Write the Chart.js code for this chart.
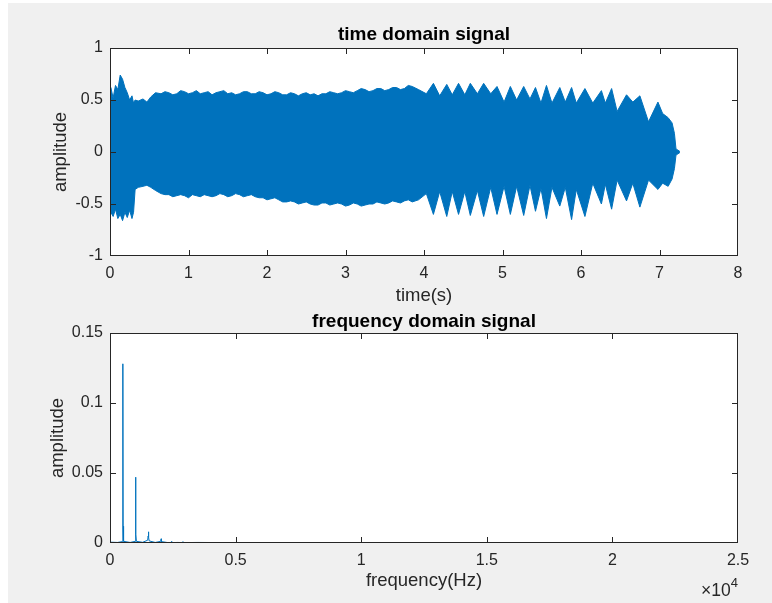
<!DOCTYPE html>
<html>
<head>
<meta charset="utf-8">
<title>time / frequency domain signal</title>
<script src="https://cdn.jsdelivr.net/npm/chart.js@4.4.1/dist/chart.umd.min.js"></script>
<style>
  html, body { margin: 0; padding: 0; background: #fff; }
  #fig { position: absolute; left: 8px; top: 3px; width: 764px; height: 600px; background: #f0f0f0; }
  #timeChart { position: absolute; left: 0; top: 0; }
  #freqChart { position: absolute; left: 0; top: 300px; }
</style>
</head>
<body>
<div id="fig"></div>
<canvas id="timeChart" width="772" height="310"></canvas>
<canvas id="freqChart" width="772" height="303"></canvas>
<script>
// envelope of the time signal, seconds / amplitude
const timeSec = [0.00, 0.01, 0.04, 0.07, 0.10, 0.13, 0.16, 0.19, 0.22, 0.25, 0.28, 0.30, 0.32, 0.36, 0.42, 0.47, 0.52, 0.58,
  0.65, 0.70, 0.75, 0.80, 0.85, 0.90, 0.95, 1.00, 1.05, 1.10, 1.15, 1.20, 1.25, 1.30, 1.35, 1.40, 1.45, 1.50, 1.55, 1.60,
  1.65, 1.70, 1.75, 1.80, 1.85, 1.90, 1.95, 2.00, 2.05, 2.10, 2.15, 2.20, 2.25, 2.30, 2.35, 2.40, 2.45, 2.50, 2.55, 2.60,
  2.65, 2.70, 2.75, 2.80, 2.85, 2.90, 2.95, 3.00, 3.05, 3.10, 3.15, 3.20, 3.25, 3.30, 3.35, 3.40, 3.45, 3.50, 3.55, 3.60,
  3.65, 3.70, 3.75, 3.80, 3.85, 3.93,
  4.03, 4.12, 4.20, 4.29, 4.36, 4.44, 4.52, 4.59, 4.68, 4.76, 4.85, 4.93, 5.02, 5.10, 5.18, 5.27, 5.35, 5.42, 5.49, 5.56,
  5.63, 5.73, 5.80, 5.88, 5.94, 6.05, 6.15, 6.26, 6.31, 6.39, 6.46, 6.58, 6.66, 6.75, 6.86, 6.98, 7.04, 7.11, 7.16, 7.19,
  7.21, 7.26];
const envUpper = [0.58, 0.62, 0.52, 0.64, 0.60, 0.74, 0.70, 0.62, 0.57, 0.50, 0.54, 0.47, 0.50, 0.49, 0.51, 0.48, 0.53, 0.57,
  0.56, 0.58, 0.57, 0.55, 0.56, 0.59, 0.58, 0.56, 0.57, 0.59, 0.56, 0.57, 0.58, 0.55, 0.57, 0.58, 0.59, 0.56, 0.57, 0.55,
  0.56, 0.58, 0.58, 0.56, 0.56, 0.58, 0.57, 0.55, 0.56, 0.58, 0.57, 0.55, 0.55, 0.57, 0.56, 0.54, 0.56, 0.57, 0.55, 0.56,
  0.54, 0.56, 0.56, 0.58, 0.57, 0.56, 0.57, 0.59, 0.58, 0.57, 0.59, 0.61, 0.60, 0.58, 0.59, 0.61, 0.61, 0.59, 0.60, 0.62,
  0.62, 0.60, 0.61, 0.64, 0.63, 0.60,
  0.56, 0.66, 0.54, 0.65, 0.55, 0.66, 0.55, 0.66, 0.56, 0.66, 0.56, 0.63, 0.48, 0.63, 0.50, 0.63, 0.51, 0.62, 0.47, 0.64,
  0.47, 0.62, 0.48, 0.62, 0.47, 0.61, 0.47, 0.59, 0.47, 0.61, 0.39, 0.55, 0.48, 0.54, 0.29, 0.48, 0.37, 0.33, 0.28, 0.18,
  0.03, 0.005];
const envLower = [-0.55, -0.58, -0.62, -0.55, -0.64, -0.60, -0.66, -0.58, -0.63, -0.56, -0.64, -0.58, -0.36, -0.34, -0.33, -0.32, -0.34, -0.37,
  -0.40, -0.41, -0.41, -0.43, -0.42, -0.41, -0.42, -0.44, -0.41, -0.42, -0.43, -0.41, -0.42, -0.43, -0.42, -0.40, -0.41, -0.43, -0.42, -0.40,
  -0.41, -0.43, -0.42, -0.41, -0.43, -0.44, -0.44, -0.46, -0.45, -0.44, -0.46, -0.48, -0.48, -0.47, -0.48, -0.50, -0.49, -0.48, -0.50, -0.51,
  -0.51, -0.49, -0.49, -0.51, -0.50, -0.49, -0.50, -0.52, -0.51, -0.49, -0.50, -0.52, -0.51, -0.50, -0.50, -0.48, -0.49, -0.50, -0.49, -0.47,
  -0.48, -0.49, -0.47, -0.46, -0.48, -0.46,
  -0.40, -0.60, -0.38, -0.62, -0.38, -0.60, -0.38, -0.61, -0.37, -0.62, -0.34, -0.60, -0.33, -0.60, -0.33, -0.61, -0.32, -0.57, -0.35, -0.64,
  -0.34, -0.52, -0.34, -0.65, -0.36, -0.62, -0.30, -0.50, -0.31, -0.55, -0.27, -0.47, -0.30, -0.53, -0.27, -0.36, -0.30, -0.33, -0.26, -0.16,
  -0.03, -0.005];
const timeTicks = [0, 1, 2, 3, 4, 5, 6, 7, 8];
const ampTicks = [-1, -0.5, 0, 0.5, 1];

// magnitude spectrum (Hz / amplitude)
const freqHz = [0, 300, 490, 508, 515, 522, 540, 800, 1000, 1016, 1024, 1032, 1050, 1300, 1500, 1518, 1530, 1542, 1560, 1800,
  2020, 2035, 2050, 2300, 2440, 2455, 2470, 2700, 2890, 2905, 2920, 3500, 4500, 6000, 8000, 10000, 12000, 14000, 16000,
  18000, 20000, 22050];
const specAmp = [0.0006, 0.0004, 0.0010, 0.012, 0.128, 0.012, 0.0012, 0.0004, 0.0012, 0.008, 0.047, 0.006, 0.0012, 0.0005, 0.0020,
  0.0050, 0.0080, 0.0040, 0.0015, 0.0004, 0.0012, 0.0030, 0.0010, 0.0003, 0.0004, 0.0012, 0.0003, 0.0004, 0.0003, 0.0010,
  0.0003, 0.0004, 0.0003, 0.0003, 0.0003, 0.0002, 0.0003, 0.0002, 0.0002, 0.0002, 0.0002, 0.0001];
const freqTicks = [0, 5000, 10000, 15000, 20000, 25000];
const specTicks = [0, 0.05, 0.1, 0.15];

const BLUE = '#0072BD';
const INK = '#262626';
const FONT = "'Liberation Sans', Arial, Helvetica, sans-serif";
const LABEL_SIZE = 18.5;

// white axes background, box and inward ticks like matlab
const matlabAxes = {
  id: 'matlabAxes',
  beforeDraw(chart) {
    const { ctx, chartArea: a } = chart;
    ctx.save();
    ctx.fillStyle = '#fff';
    ctx.fillRect(a.left, a.top, a.right - a.left, a.bottom - a.top);
    ctx.restore();
  },
  afterDraw(chart) {
    const { ctx, chartArea: a, scales: { x, y } } = chart;
    const L = Math.round(a.left), R = Math.round(a.right) - 1;
    const T = Math.round(a.top), B = Math.round(a.bottom) - 1;
    ctx.save();
    ctx.fillStyle = INK;
    // box
    ctx.fillRect(L, T, R - L + 1, 1);
    ctx.fillRect(L, B, R - L + 1, 1);
    ctx.fillRect(L, T, 1, B - T + 1);
    ctx.fillRect(R, T, 1, B - T + 1);
    // ticks pointing inward, on all four sides
    x.ticks.forEach(t => {
      const px = Math.min(Math.round(x.getPixelForValue(t.value)), R);
      ctx.fillRect(px, T, 1, 6);
      ctx.fillRect(px, B - 5, 1, 6);
    });
    y.ticks.forEach(t => {
      const py = Math.min(Math.round(y.getPixelForValue(t.value)), B);
      ctx.fillRect(L, py, 6, 1);
      ctx.fillRect(R - 5, py, 6, 1);
    });
    ctx.restore();
  }
};

// the "x10^4" multiplier under the frequency axis
const expLabel = {
  id: 'expLabel',
  afterDraw(chart) {
    const { ctx, chartArea: a } = chart;
    ctx.save();
    ctx.fillStyle = INK;
    ctx.textAlign = 'right';
    ctx.textBaseline = 'alphabetic';
    ctx.font = '13px ' + FONT;
    const supW = ctx.measureText('4').width;
    ctx.fillText('4', a.right, a.bottom + 44);
    ctx.font = '17.5px ' + FONT;
    ctx.fillText('\u00d710', a.right - supW, a.bottom + 53);
    ctx.restore();
  }
};

function axesOptions(cfg) {
  const labelFont = { family: FONT, size: LABEL_SIZE, lineHeight: 1.2 };
  return {
    responsive: false,
    animation: false,
    devicePixelRatio: 1,
    layout: { padding: { left: 0, right: 34, top: 0, bottom: 0 } },
    plugins: {
      legend: { display: false },
      tooltip: { enabled: false },
      title: {
        display: true, text: cfg.title, fullSize: false, color: '#000',
        font: { family: FONT, size: 19, weight: 'bold', lineHeight: 1.2 },
        padding: cfg.titlePad
      }
    },
    scales: {
      x: {
        type: 'linear', min: cfg.xTicks[0], max: cfg.xTicks[cfg.xTicks.length - 1],
        afterBuildTicks: s => { s.ticks = cfg.xTicks.map(v => ({ value: v })); },
        afterFit: s => { s.height = cfg.xHeight; },
        grid: { display: false, drawTicks: false },
        border: { display: false },
        ticks: { color: INK, font: { family: FONT, size: 16, lineHeight: 1.2 }, padding: 7.5, maxRotation: 0, autoSkip: false, callback: cfg.xFmt },
        title: { display: true, text: cfg.xLabel, color: INK, font: labelFont, padding: { top: 0, bottom: cfg.xLabelPad } }
      },
      y: {
        type: 'linear', min: cfg.yTicks[0], max: cfg.yTicks[cfg.yTicks.length - 1],
        afterBuildTicks: s => { s.ticks = cfg.yTicks.map(v => ({ value: v })); },
        afterFit: s => { s.width = 110; },
        grid: { display: false, drawTicks: false },
        border: { display: false },
        ticks: { color: INK, font: { family: FONT, size: 16, lineHeight: 1.2 }, padding: 7, autoSkip: false, callback: v => String(v) },
        title: { display: true, text: 'amplitude', color: INK, font: labelFont, padding: { top: cfg.yLabelPad, bottom: 0 } }
      }
    }
  };
}

new Chart(document.getElementById('timeChart'), {
  type: 'line',
  data: {
    datasets: [
      { data: timeSec.map((t, i) => ({ x: t, y: envUpper[i] })), borderColor: BLUE, backgroundColor: BLUE, borderWidth: 1, pointRadius: 0, fill: 'origin' },
      { data: timeSec.map((t, i) => ({ x: t, y: envLower[i] })), borderColor: BLUE, backgroundColor: BLUE, borderWidth: 1, pointRadius: 0, fill: 'origin' }
    ]
  },
  options: axesOptions({
    title: 'time domain signal', titlePad: { top: 23.6, bottom: 1.6 },
    xTicks: timeTicks, xHeight: 54, xLabel: 'time(s)', xLabelPad: 2.9, xFmt: v => String(v),
    yTicks: ampTicks, yLabelPad: 49.9
  }),
  plugins: [matlabAxes]
});

new Chart(document.getElementById('freqChart'), {
  type: 'line',
  data: {
    datasets: [
      { data: freqHz.map((f, i) => ({ x: f, y: specAmp[i] })), borderColor: BLUE, borderWidth: 1, pointRadius: 0, fill: false }
    ]
  },
  options: axesOptions({
    title: 'frequency domain signal', titlePad: { top: 10.2, bottom: 0 },
    xTicks: freqTicks, xHeight: 60, xLabel: 'frequency(Hz)', xLabelPad: 10.9, xFmt: v => String(v / 10000),
    yTicks: specTicks, yLabelPad: 46.4
  }),
  plugins: [matlabAxes, expLabel]
});
</script>
</body>
</html>
